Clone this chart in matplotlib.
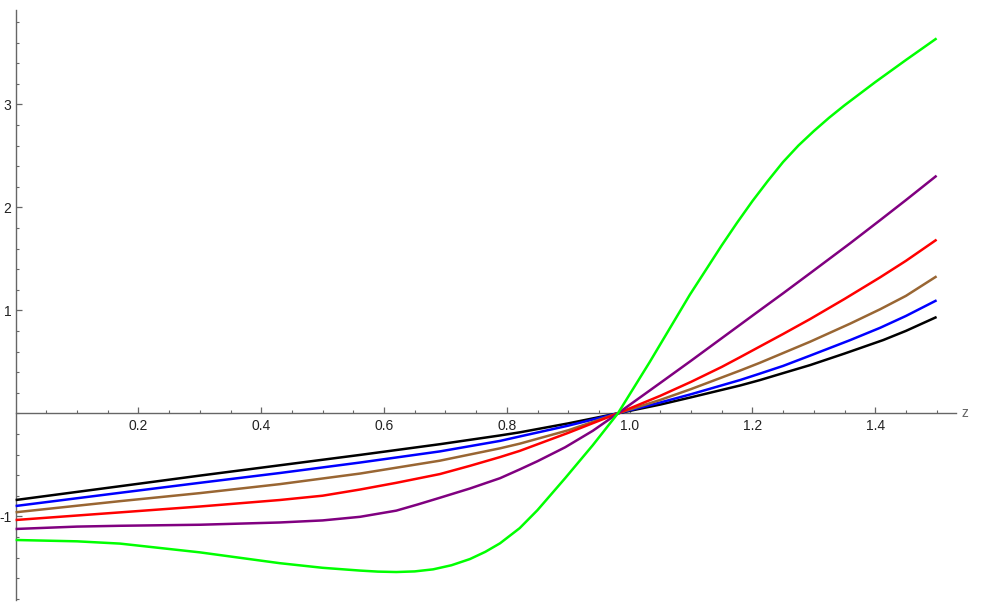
import matplotlib
matplotlib.use("Agg")
import matplotlib.pyplot as plt
from matplotlib.ticker import FixedLocator, FixedFormatter

plt.rcParams['axes.unicode_minus'] = False
plt.rcParams['font.family'] = ['Liberation Sans', 'DejaVu Sans']

# ---- data ----
x_black = [0.0, 0.17, 0.3, 0.43, 0.561, 0.691, 0.789, 0.821, 0.9, 0.981,
           1.05, 1.1, 1.18, 1.212, 1.25, 1.294, 1.35, 1.413, 1.45, 1.5]
y_black = [-0.842, -0.708, -0.605, -0.505, -0.404, -0.300, -0.215, -0.185, -0.098, 0.0,
           0.085, 0.155, 0.27, 0.322, 0.39, 0.468, 0.58, 0.711, 0.80, 0.935]

x_blue = [0.0, 0.17, 0.3, 0.43, 0.561, 0.691, 0.789, 0.821, 0.9, 0.981,
          1.05, 1.1, 1.18, 1.212, 1.25, 1.294, 1.359, 1.408, 1.45, 1.5]
y_blue = [-0.90, -0.772, -0.675, -0.58, -0.478, -0.37, -0.268, -0.225, -0.12, 0.0,
          0.105, 0.185, 0.323, 0.385, 0.46, 0.56, 0.71, 0.83, 0.945, 1.097]

x_brown = [0.0, 0.17, 0.3, 0.43, 0.561, 0.691, 0.789, 0.821, 0.9, 0.981,
           1.05, 1.1, 1.18, 1.212, 1.25, 1.294, 1.359, 1.408, 1.45, 1.5]
y_brown = [-0.961, -0.853, -0.775, -0.688, -0.585, -0.46, -0.34, -0.295, -0.165, 0.0,
           0.13, 0.235, 0.415, 0.49, 0.585, 0.695, 0.87, 1.01, 1.14, 1.33]

x_red = [0.0, 0.17, 0.3, 0.43, 0.5, 0.561, 0.62, 0.691, 0.74, 0.789, 0.821, 0.9, 0.981,
         1.05, 1.1, 1.15, 1.18, 1.212, 1.25, 1.294, 1.35, 1.408, 1.45, 1.5]
y_red = [-1.036, -0.962, -0.905, -0.842, -0.80, -0.74, -0.675, -0.59, -0.51, -0.425, -0.365, -0.19, 0.0,
         0.17, 0.305, 0.45, 0.545, 0.648, 0.77, 0.915, 1.11, 1.32, 1.48, 1.686]

x_purple = [0.0, 0.1, 0.17, 0.3, 0.43, 0.5, 0.561, 0.62, 0.655, 0.691, 0.74, 0.789, 0.821, 0.85, 0.895, 0.94, 0.981,
            1.05, 1.1, 1.18, 1.212, 1.25, 1.294, 1.359, 1.408, 1.45, 1.5]
y_purple = [-1.123, -1.10, -1.092, -1.082, -1.06, -1.04, -1.005, -0.945, -0.885, -0.82, -0.73, -0.63, -0.545, -0.465, -0.33, -0.17, 0.0,
            0.295, 0.51, 0.86, 1.0, 1.165, 1.36, 1.65, 1.875, 2.07, 2.307]

x_green = [0.0, 0.1, 0.17, 0.3, 0.43, 0.5, 0.561, 0.59, 0.62, 0.65, 0.68, 0.71, 0.74, 0.765, 0.789, 0.821, 0.85, 0.895, 0.94, 0.981,
           1.033, 1.098, 1.15, 1.175, 1.2, 1.225, 1.25, 1.275, 1.3, 1.325, 1.35, 1.4, 1.45, 1.5]
y_green = [-1.23, -1.243, -1.265, -1.35, -1.455, -1.50, -1.527, -1.537, -1.541, -1.535, -1.515, -1.475, -1.415, -1.345, -1.262, -1.115, -0.94, -0.63, -0.31, 0.0,
           0.5, 1.15, 1.63, 1.85, 2.06, 2.255, 2.44, 2.60, 2.74, 2.87, 2.99, 3.215, 3.43, 3.64]

x_major = [0.2, 0.4, 0.6, 0.8, 1.0, 1.2, 1.4]
x_labels = ["0.2", "0.4", "0.6", "0.8", "1.0", "1.2", "1.4"]
y_major = [-1, 1, 2, 3]
y_labels = ["-1", "1", "2", "3"]
axis_label = "z"

series = [
    (x_black, y_black, "black"),
    (x_blue, y_blue, (0, 0, 1)),
    (x_brown, y_brown, (0.6, 0.4, 0.2)),
    (x_red, y_red, (1, 0, 0)),
    (x_purple, y_purple, (0.5, 0, 0.5)),
    (x_green, y_green, (0, 1, 0)),
]

W, H = 999, 606
fig = plt.figure(figsize=(W / 100, H / 100), dpi=100)
ax = fig.add_axes([0, 0, 1, 1])

px_per_x = 614.0
px_per_y = 103.0
x0_px = 15.6
y0_px = 413.3
ax.set_xlim(-x0_px / px_per_x, (W - x0_px) / px_per_x)
ax.set_ylim((y0_px - H) / px_per_y, y0_px / px_per_y)

for xs, ys, c in series:
    ax.plot(xs, ys, color=c, lw=1.8, zorder=3, solid_capstyle='butt',
            solid_joinstyle='round')

axis_col = (0.4, 0.4, 0.4)
for s in ['top', 'right']:
    ax.spines[s].set_visible(False)
ax.spines['left'].set_position(('data', 0))
ax.spines['bottom'].set_position(('data', 0))
ax.spines['left'].set_bounds(-1.81, 3.92)
ax.spines['bottom'].set_bounds(0, 1.531)
for s in ['left', 'bottom']:
    ax.spines[s].set_color(axis_col)
    ax.spines[s].set_linewidth(1.0)
    ax.spines[s].set_zorder(2)

ax.xaxis.set_major_locator(FixedLocator(x_major))
ax.xaxis.set_major_formatter(FixedFormatter(x_labels))
ax.xaxis.set_minor_locator(FixedLocator([i * 0.05 for i in range(1, 31)]))
ax.yaxis.set_major_locator(FixedLocator(y_major))
ax.yaxis.set_major_formatter(FixedFormatter(y_labels))
ax.yaxis.set_minor_locator(FixedLocator([round(-1.8 + i * 0.2, 2) for i in range(0, 29)]))

ax.tick_params(axis='both', which='major', direction='in', length=4, width=0.9,
               color=axis_col, labelsize=10, labelcolor='#222222')
ax.tick_params(axis='both', which='minor', direction='in', length=2.5, width=0.8,
               color=axis_col)
ax.tick_params(axis='x', which='major', pad=4)
ax.tick_params(axis='y', which='major', pad=3)

ax.text((965 - x0_px) / px_per_x, 0, axis_label, color=axis_col, fontsize=10,
        ha='center', va='center')

ax.set_facecolor('white')
fig.savefig("out.png", dpi=100, facecolor='white')
